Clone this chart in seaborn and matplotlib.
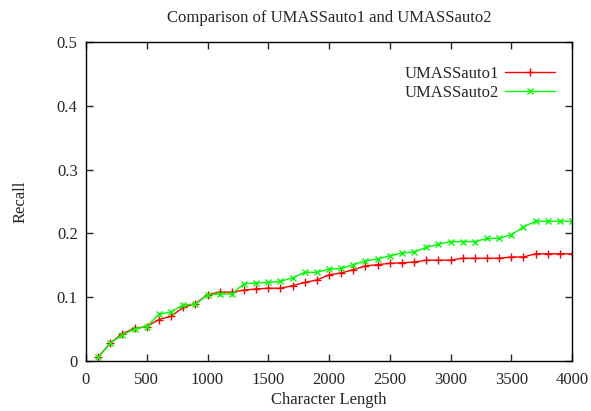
import matplotlib
matplotlib.use("Agg")
import matplotlib.pyplot as plt
import seaborn as sns
from matplotlib.ticker import FuncFormatter

# character length (x) for each point
char_len = list(range(100, 4100, 100))

# recall values
auto1 = [0.006, 0.028, 0.043, 0.051, 0.054, 0.065, 0.070, 0.084, 0.090, 0.104,
         0.108, 0.108, 0.111, 0.113, 0.114, 0.114, 0.118, 0.123, 0.127, 0.135,
         0.138, 0.143, 0.149, 0.151, 0.153, 0.154, 0.155, 0.158, 0.158, 0.158,
         0.161, 0.161, 0.161, 0.161, 0.163, 0.163, 0.168, 0.168, 0.168, 0.168]
auto2 = [0.006, 0.028, 0.041, 0.050, 0.054, 0.073, 0.077, 0.088, 0.089, 0.104,
         0.105, 0.105, 0.121, 0.122, 0.123, 0.125, 0.130, 0.139, 0.139, 0.144,
         0.145, 0.151, 0.157, 0.160, 0.165, 0.169, 0.171, 0.178, 0.183, 0.187,
         0.187, 0.187, 0.192, 0.192, 0.198, 0.210, 0.219, 0.219, 0.219, 0.219]

sns.set_style("ticks")
plt.rcParams["font.family"] = ["Liberation Serif", "DejaVu Serif"]

fig = plt.figure(figsize=(5.91, 4.11), dpi=100)
ax = fig.add_axes([0.1455, 0.1217, 0.8225, 0.7763])

sns.lineplot(x=char_len, y=auto1, color="#ff0000", marker="+", markersize=6,
             markeredgewidth=1, markeredgecolor="#ff0000", linewidth=1,
             label="UMASSauto1", ax=ax)
sns.lineplot(x=char_len, y=auto2, color="#00ff00", marker="x", markersize=5,
             markeredgewidth=1, markeredgecolor="#00ff00", linewidth=1,
             label="UMASSauto2", ax=ax)

ax.set_xlim(0, 4000)
ax.set_ylim(0, 0.5)
ax.set_xticks(range(0, 4001, 500))
ax.set_yticks([0, 0.1, 0.2, 0.3, 0.4, 0.5])
ax.yaxis.set_major_formatter(FuncFormatter(lambda v, p: "0" if v == 0 else f"{v:.1f}"))
ax.tick_params(direction="in", top=True, right=True, length=5, labelsize=12, width=1)
ax.tick_params(axis="x", pad=8)
ax.tick_params(axis="y", pad=6)
for s in ax.spines.values():
    s.set_linewidth(1)
    s.set_color("black")

ax.set_title("Comparison of UMASSauto1 and UMASSauto2", fontsize=12, pad=14)
ax.set_xlabel("Character Length", fontsize=12, labelpad=3)
ax.set_ylabel("Recall", fontsize=12, labelpad=20)

leg = ax.legend(loc="upper right", bbox_to_anchor=(0.979, 0.945), borderaxespad=0,
                frameon=False, markerfirst=False, fontsize=12,
                handlelength=3.0, handletextpad=0.4, labelspacing=0.15)

fig.savefig("out.png", dpi=100)
